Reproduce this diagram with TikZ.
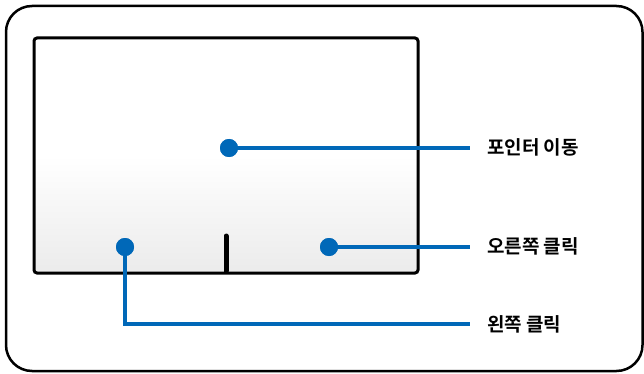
\documentclass[tikz,border=0pt]{standalone}
\usepackage{fontspec}
\newfontfamily\kor{Noto Sans CJK KR Bold}
\definecolor{dotblue}{HTML}{0068B8}
\definecolor{padgray}{HTML}{EBEBEB}
\begin{document}
\begin{tikzpicture}[x=1pt,y=-1pt,
  dotmark/.style={circle,fill=dotblue,inner sep=0pt,minimum size=18pt},
  lead/.style={draw=dotblue,line width=4pt},
  lbl/.style={anchor=west,inner sep=0pt,font=\kor\fontsize{19}{21}\selectfont}]
\useasboundingbox (0,0) rectangle (644,374);
\draw[line width=2.5pt,rounded corners=26pt] (6,6) rectangle (642.5,371);
\shade[top color=white,bottom color=padgray,middle color=white,shading angle=0,rounded corners=3pt] (34,38) rectangle (418,273);
\draw[line width=3pt,rounded corners=3pt] (34,38) rectangle (418,273);
\draw[line width=5pt,line cap=round] (226,236) -- (226,271);
\coordinate (e1) at (470,148);
\coordinate (e2) at (470,247);
\coordinate (e3) at (470,324);
\node[dotmark] (d1) at (229,148) {};
\node[dotmark] (d2) at (329,247) {};
\node[dotmark] (d3) at (125,247) {};
\draw[lead] (d1.center) -- (e1);
\draw[lead] (d2.center) -- (e2);
\draw[lead] (d3.center) |- (e3);
\node[dotmark] at (d1) {};
\node[dotmark] at (d2) {};
\node[dotmark] at (d3) {};
\node[lbl] (t1) at (487,147) {포인터 이동};
\node[lbl] (t2) at (487,246) {오른쪽 클릭};
\node[lbl] (t3) at (487,324) {왼쪽 클릭};
\end{tikzpicture}
\end{document}
